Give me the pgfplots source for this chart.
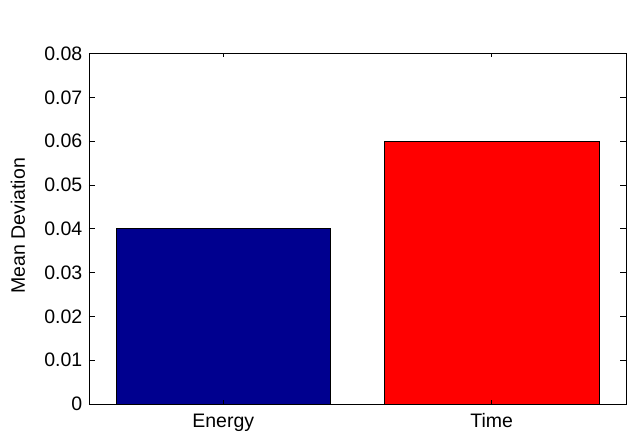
\documentclass[border=0pt]{standalone}
\usepackage{pgfplots}
\pgfplotsset{compat=1.18}
\usepackage{fontspec}
\setmainfont{Liberation Sans}
\definecolor{mblue}{RGB}{0,0,143}
\definecolor{mred}{RGB}{255,0,0}
\begin{document}
\fontsize{19.5}{22}\selectfont
\begin{tikzpicture}[font=\fontsize{19.5}{22}\selectfont]
\begin{axis}[
  scale only axis,
  width=537pt, height=350.5pt,
  xmin=0.5, xmax=2.5, ymin=0, ymax=0.08,
  axis line style={line width=0.8pt, black},
  xtick={1,2}, xticklabels={Energy,Time},
  ytick={0,0.01,0.02,0.03,0.04,0.05,0.06,0.07,0.08},
  yticklabels={0,0.01,0.02,0.03,0.04,0.05,0.06,0.07,0.08},
  scaled y ticks=false,
  /pgf/number format/assume math mode=true,
  tick style={black, line width=0.6pt},
  xtick style={/pgfplots/major tick length=4pt},
  ytick style={/pgfplots/major tick length=6pt},
  xticklabel style={yshift=-3pt},
  tick label style={font=\fontsize{19.5}{22}\selectfont},
  ylabel={Mean Deviation},
  ylabel style={at={([xshift=-64pt,yshift=3pt]axis description cs:0,0.5)}, anchor=base, font=\fontsize{19.5}{22}\selectfont},
  bar width=0.8,
  axis on top,
]
\addplot[ybar, bar shift=0pt, fill=mblue, draw=black, line width=0.6pt] coordinates {(1,0.04)};
\addplot[ybar, bar shift=0pt, fill=mred, draw=black, line width=0.6pt] coordinates {(2,0.06)};
\end{axis}
\pgfresetboundingbox
\path ([shift={(-89pt,-28pt)}]current axis.south west) rectangle ([shift={(4pt,53.5pt)}]current axis.north east);
\end{tikzpicture}
\end{document}
